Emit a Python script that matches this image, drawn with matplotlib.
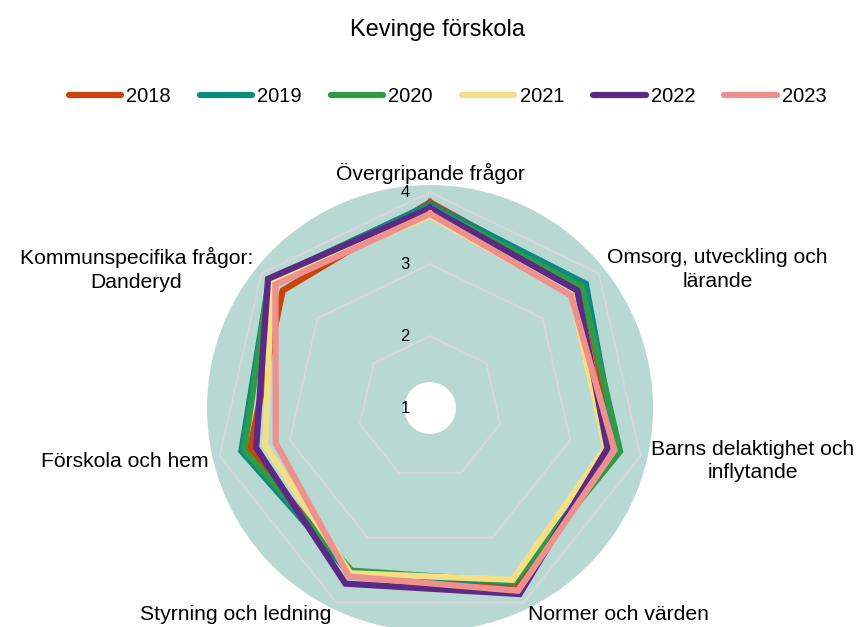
import numpy as np
import matplotlib.pyplot as plt
from matplotlib.lines import Line2D

plt.rcParams['font.family'] = ['Liberation Sans', 'DejaVu Sans']

# data
categories = ['Övergripande frågor', 'Omsorg, utveckling och\nlärande',
              'Barns delaktighet och\ninflytande', 'Normer och värden',
              'Styrning och ledning', 'Förskola och hem',
              'Kommunspecifika frågor:\nDanderyd']
years = ['2018', '2019', '2020', '2021', '2022', '2023']
v2018 = [3.86, 3.71, 3.64, 3.72, 3.56, 3.57, 3.62]
v2019 = [3.83, 3.77, 3.66, 3.69, 3.56, 3.69, 3.86]
v2020 = [3.79, 3.70, 3.71, 3.68, 3.51, 3.65, 3.86]
v2021 = [3.67, 3.52, 3.50, 3.65, 3.55, 3.35, 3.82]
v2022 = [3.78, 3.62, 3.53, 3.87, 3.71, 3.48, 3.88]
v2023 = [3.70, 3.51, 3.63, 3.82, 3.60, 3.20, 3.75]
tick_vals = [1, 2, 3, 4]

series = [v2018, v2019, v2020, v2021, v2022, v2023]
colors = ['#c9450c', '#0b8a80', '#2f9a48', '#f5df86', '#5c2a84', '#ee918c']

fig = plt.figure(figsize=(8.63, 6.27), dpi=100)
ax = fig.add_axes([0.2399, -0.0064, 0.5168, 0.7113], projection='polar')
ax.set_theta_offset(np.pi / 2)
ax.set_theta_direction(-1)
ax.set_ylim(1, 4.1)
ax.set_facecolor('#b8d8d4')
ax.spines['polar'].set_visible(False)
ax.grid(False)
ax.set_xticks([])
ax.set_yticks([])

n = len(categories)
theta = np.arange(n) * 2 * np.pi / n
theta_c = np.append(theta, theta[0])

# heptagon grid
for g in tick_vals[1:]:
    ax.plot(theta_c, [g] * (n + 1), color='#d6d6d6', lw=1.5, zorder=1)

for vals, col, yr in zip(series, colors, years):
    ax.plot(theta_c, vals + vals[:1], color=col, lw=4.5,
            solid_joinstyle='miter', zorder=2, label=yr)

# white hole in the middle
circ = np.linspace(0, 2 * np.pi, 200)
ax.fill(circ, np.full(200, 1.36), color='white', zorder=3, lw=0)

for t in tick_vals:
    ax.annotate(str(t), xy=(0, t), xytext=(-18, 0), textcoords='offset points',
                ha='center', va='center', fontsize=12, zorder=4,
                annotation_clip=False)

# category labels
for th, lab in zip(theta, categories):
    ang = np.degrees(th)
    if ang < 1:
        ha, va = 'center', 'bottom'
    elif ang < 180:
        ha, va = 'left', 'center'
    else:
        ha, va = 'right', 'center'
    ax.annotate(lab, xy=(th, 4.15), xytext=(0, -2), textcoords='offset points',
                ha=ha, va=va, multialignment='center', linespacing=1.3,
                fontsize=15.2, annotation_clip=False)

fig.text(0.507, 1 - 30 / 627, 'Kevinge förskola', ha='center', va='center',
         fontsize=17)

handles = [Line2D([0], [0], color=c, lw=4.5, solid_capstyle='round') for c in colors]
fig.legend(handles, years, loc='center', bbox_to_anchor=(0.5185, 1 - 97 / 627),
           ncol=6, frameon=False, fontsize=14.5, handlelength=2.6,
           handletextpad=0.25, columnspacing=1.45)

fig.savefig('out.png', dpi=100)
